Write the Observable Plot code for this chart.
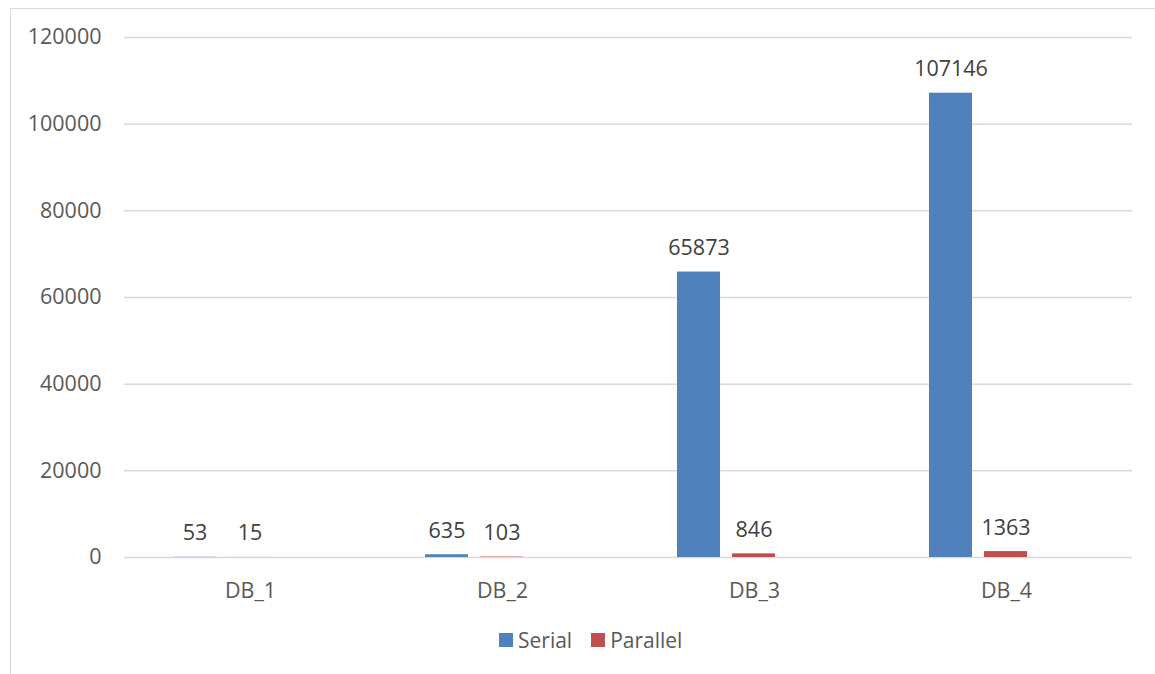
<!DOCTYPE html>
<html>
<head>
<meta charset="utf-8">
<script src="https://cdn.jsdelivr.net/npm/d3@7"></script>
<script src="https://cdn.jsdelivr.net/npm/@observablehq/plot@0.6"></script>
<style>
  html, body { margin: 0; padding: 0; background: #fff; overflow: hidden; width: 1155px; height: 674px; }
  #frame { position: absolute; left: 10px; top: 8px; width: 1200px; height: 720px;
           border-left: 1px solid #d9d9d9; border-top: 1px solid #d9d9d9; }
  #chart { position: absolute; left: 0; top: 0; }
  #legend { position: absolute; top: 626px; left: 499px; display: flex; align-items: center;
            font-family: "Open Sans", sans-serif; font-size: 21px; color: #595959; }
  .item { display: flex; align-items: center; margin-right: 19px; }
  .sw { width: 14px; height: 14px; margin-right: 5px; }
</style>
</head>
<body>
<div id="frame"></div>
<div id="chart"></div>
<div id="legend"></div>
<script>
const categories = ["DB_1", "DB_2", "DB_3", "DB_4"];
const seriesNames = ["Serial", "Parallel"];
const serialValues = [53, 635, 65873, 107146];
const parallelValues = [15, 103, 846, 1363];
const yTicks = [0, 20000, 40000, 60000, 80000, 100000, 120000];
const colors = ["#4f81bd", "#c0504d"];

const data = [];
categories.forEach((c, i) => {
  data.push({db: c, series: "Serial", value: serialValues[i]});
  data.push({db: c, series: "Parallel", value: parallelValues[i]});
});

const chart = Plot.plot({
  width: 1155,
  height: 615,
  marginTop: 37,
  marginBottom: 58,
  marginLeft: 123,
  marginRight: 22,
  style: {fontFamily: "Open Sans", fontSize: "21.5px", color: "#595959", background: "transparent"},
  fx: {domain: categories, padding: 0, axis: "bottom", label: null, tickSize: 0, tickPadding: 25},
  x: {domain: [...seriesNames, " "], paddingInner: 0.214, paddingOuter: 0.861, axis: null},
  y: {domain: [0, 120000], ticks: yTicks, tickFormat: d => String(d), tickSize: 0, tickPadding: 23, label: null},
  color: {domain: seriesNames, range: colors},
  marks: [
    Plot.ruleY(yTicks, {stroke: "#d9d9d9", strokeWidth: 1.5}),
    Plot.barY(data, {fx: "db", x: "series", y: "value", fill: "series"}),
    Plot.text(data, {fx: "db", x: "series", y: "value", text: d => String(d.value),
      lineAnchor: "bottom", dy: -17, fill: "#404040", fontSize: 21.5})
  ]
});
document.getElementById("chart").appendChild(chart);

const legend = document.getElementById("legend");
seriesNames.forEach((s, i) => {
  const item = document.createElement("div");
  item.className = "item";
  const sw = document.createElement("div");
  sw.className = "sw";
  sw.style.background = colors[i];
  const t = document.createElement("span");
  t.textContent = s;
  item.appendChild(sw);
  item.appendChild(t);
  legend.appendChild(item);
});
</script>
</body>
</html>
